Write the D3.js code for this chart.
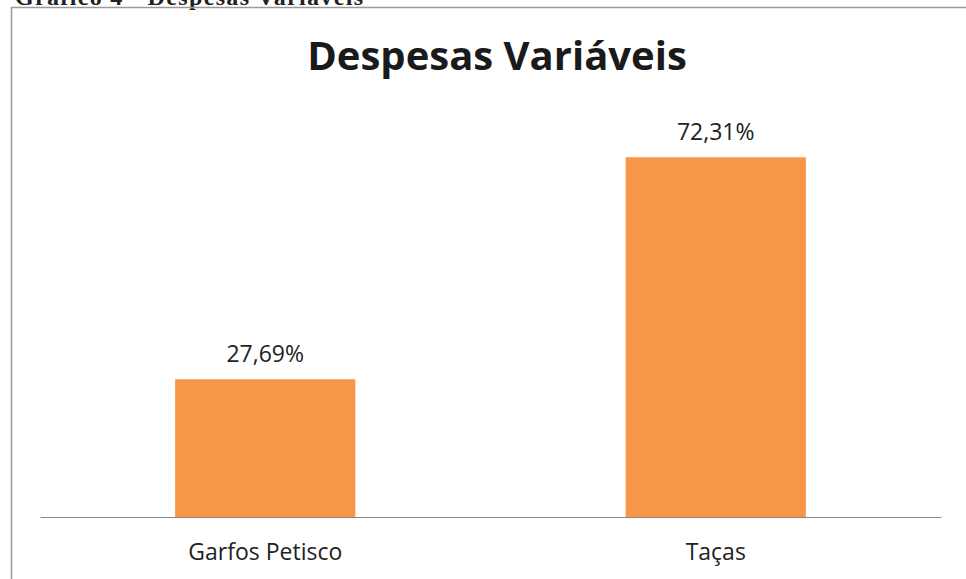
<!DOCTYPE html>
<html>
<head>
<meta charset="utf-8">
<script src="https://cdn.jsdelivr.net/npm/d3@7"></script>
<style>
  body { margin: 0; background: #fff; }
  svg { display: block; }
</style>
</head>
<body>
<svg id="chart"></svg>
<script>
var categories = ["Garfos Petisco", "Taças"]
var values = [27.69, 72.31]
var labels = ["27,69%", "72,31%"]
var yMax = 80

var width = 966
var height = 579
var margin = {left: 40, right: 25, top: 119, bottom: 62}

var svg = d3.select('svg#chart')
  .attr("width", width)
  .attr("height", height)

// document caption, cut off at the top of the page
svg.append("text")
  .attr("x", 15)
  .attr("y", 5)
  .attr("textLength", 348)
  .attr("lengthAdjust", "spacing")
  .style("font", "bold 24px 'Liberation Serif', serif")
  .attr("fill", "#222")
  .text("Gráfico 4 - Despesas Variáveis")

// chart frame
svg.append("path")
  .attr("d", `M11.5,${height} V7.5 H${width}`)
  .attr("fill", "none")
  .attr("stroke", "#9a9a9a")
  .attr("stroke-width", 1.5)

var x = d3.scaleBand()
  .domain(categories)
  .range([margin.left, width - margin.right])
  .paddingInner(0.6)
  .paddingOuter(0.3)

var y = d3.scaleLinear()
  .domain([0, yMax])
  .range([height - margin.bottom, margin.top])

svg.append("text")
  .attr("x", 497)
  .attr("y", 70)
  .attr("text-anchor", "middle")
  .style("font", "bold 40px 'Open Sans', sans-serif")
  .attr("fill", "#1a1a1a")
  .text("Despesas Variáveis")

svg.append("g")
    .attr("fill", "#F79646")
  .selectAll("rect")
  .data(values)
  .join("rect")
    .attr("x", (d, i) => x(categories[i]))
    .attr("y", d => y(d))
    .attr("width", x.bandwidth())
    .attr("height", d => y(0) - y(d))

svg.append("g")
  .selectAll("text")
  .data(values)
  .join("text")
    .attr("x", (d, i) => x(categories[i]) + x.bandwidth() / 2)
    .attr("y", d => y(d) - 17)
    .attr("text-anchor", "middle")
    .style("font", "23px 'Open Sans', sans-serif")
    .attr("fill", "#222")
    .text((d, i) => labels[i])

var xAxis = g => g
  .attr("transform", `translate(0,${y(0)})`)
  .call(d3.axisBottom(x).tickSize(0).tickPadding(27))
  .call(g => g.select(".domain").attr("stroke", "#868686"))
  .call(g => g.selectAll(".tick text")
    .style("font", "23px 'Open Sans', sans-serif")
    .attr("fill", "#222"))

svg.append("g").call(xAxis)
</script>
</body>
</html>
